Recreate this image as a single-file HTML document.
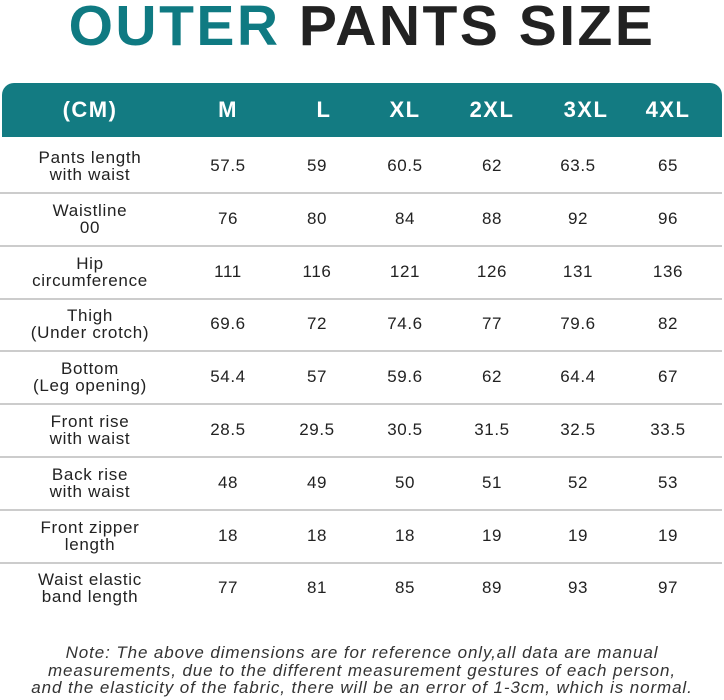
<!DOCTYPE html>
<html><head><style>
body{margin:0;width:724px;height:700px;background:#fff;position:relative;overflow:hidden;font-family:"Liberation Sans",sans-serif;color:#222}
.t{position:absolute;left:0;width:724px;top:-7px;text-align:center;font-weight:bold;font-size:57px;letter-spacing:2.5px;color:#222;line-height:66px}
.t span{color:#0f7a82}
.hd{position:absolute;left:2px;top:83px;width:720px;height:54px;background:#137b82;border-radius:12px 12px 0 0}
.c{position:absolute;transform:translate(-50%,-50%);text-align:center;white-space:nowrap}
.h{color:#fff;font-weight:bold;font-size:22px;letter-spacing:1.5px}
.l{font-size:17px;line-height:17px;letter-spacing:0.7px}
.v{font-size:17px;letter-spacing:0.6px}
.ln{position:absolute;left:0;width:722px;height:2px;background:#ccc}
.n{position:absolute;left:0;width:724px;top:644px;text-align:center;font-style:italic;font-size:17px;line-height:17.5px;letter-spacing:0.9px;color:#333}
</style></head><body>
<div class="t"><span>OUTER</span> PANTS SIZE</div>
<div class="hd"></div>
<div class="c h" style="left:90px;top:110px">(CM)</div>
<div class="c h" style="left:228px;top:110px">M</div>
<div class="c h" style="left:324px;top:110px">L</div>
<div class="c h" style="left:405px;top:110px">XL</div>
<div class="c h" style="left:492px;top:110px">2XL</div>
<div class="c h" style="left:586px;top:110px">3XL</div>
<div class="c h" style="left:668px;top:110px">4XL</div>
<div id="rows"></div>
<script>
var d=[["Pants length<br>with waist","57.5","59","60.5","62","63.5","65"],
["Waistline<br>00","76","80","84","88","92","96"],
["Hip<br>circumference","111","116","121","126","131","136"],
["Thigh<br>(Under crotch)","69.6","72","74.6","77","79.6","82"],
["Bottom<br>(Leg opening)","54.4","57","59.6","62","64.4","67"],
["Front rise<br>with waist","28.5","29.5","30.5","31.5","32.5","33.5"],
["Back rise<br>with waist","48","49","50","51","52","53"],
["Front zipper<br>length","18","18","18","19","19","19"],
["Waist elastic<br>band length","77","81","85","89","93","97"]];
var xs=[90,228,317,405,492,578,668],h="";
d.forEach(function(r,i){var y=166+i*52.8;
r.forEach(function(t,j){h+='<div class="c '+(j?'v':'l')+'" style="left:'+xs[j]+'px;top:'+y+'px">'+t+'</div>';});
if(i<8)h+='<div class="ln" style="top:'+(192+i*52.8)+'px"></div>';});
document.getElementById('rows').innerHTML=h;
</script>
<div class="n">Note: The above dimensions are for reference only,all data are manual<br>measurements, due to the different measurement gestures of each person,<br>and the elasticity of the fabric, there will be an error of 1-3cm, which is normal.</div>
</body></html>
